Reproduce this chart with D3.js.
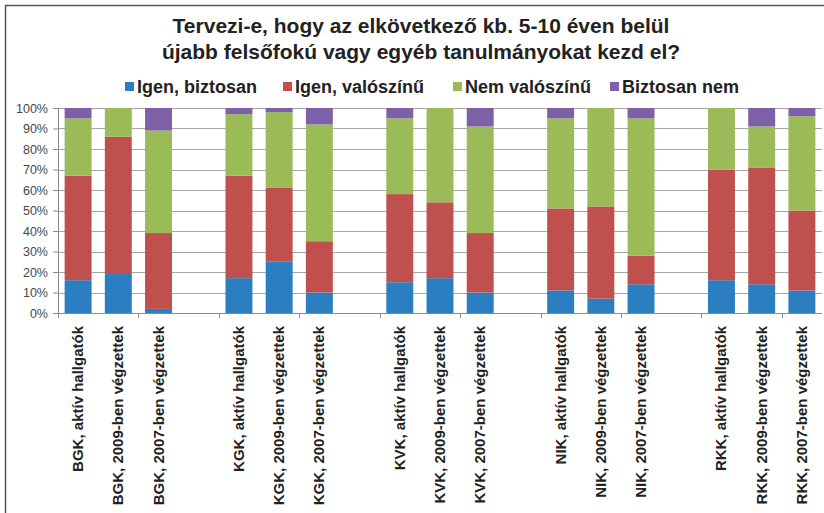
<!DOCTYPE html>
<html>
<head>
<meta charset="utf-8">
<script src="https://cdn.jsdelivr.net/npm/d3@7"></script>
<style>
  body { margin: 0; background: #fff; }
  svg { display: block; font-family: "Liberation Sans", Arial, sans-serif; }
</style>
</head>
<body>
<div id="chart"></div>
<script>
// categories, '' marks an empty slot between faculties
const categories = [
  'BGK, aktív hallgatók', 'BGK, 2009-ben végzettek', 'BGK, 2007-ben végzettek', '',
  'KGK, aktív hallgatók', 'KGK, 2009-ben végzettek', 'KGK, 2007-ben végzettek', '',
  'KVK, aktív hallgatók', 'KVK, 2009-ben végzettek', 'KVK, 2007-ben végzettek', '',
  'NIK, aktív hallgatók', 'NIK, 2009-ben végzettek', 'NIK, 2007-ben végzettek', '',
  'RKK, aktív hallgatók', 'RKK, 2009-ben végzettek', 'RKK, 2007-ben végzettek'
];
const seriesNames = ['Igen, biztosan', 'Igen, valószínű', 'Nem valószínű', 'Biztosan nem'];
const seriesColors = ['#2b7fc1', '#c0504d', '#9bbb59', '#7d60a8'];

// percentages per bar (empty slots are skipped)
const igenBiztosan  = [16, 19, 2,   17, 25, 10,  15, 17, 10,  11, 7, 14,   16, 14, 11];
const igenValoszinu = [51, 67, 37,  50, 36, 25,  43, 37, 29,  40, 45, 14,  54, 57, 39];
const nemValoszinu  = [28, 14, 50,  30, 37, 57,  37, 46, 52,  44, 48, 67,  30, 20, 46];
const biztosanNem   = [5, 0, 11,    3, 2, 8,     5, 0, 9,     5, 0, 5,     0, 9, 4];

const yTicks = [0, 10, 20, 30, 40, 50, 60, 70, 80, 90, 100];

const svgWidth = 824;
const svgHeight = 513;
const margin = { top: 108, right: 2, bottom: 200, left: 58 };
const width = svgWidth - margin.left - margin.right;
const height = svgHeight - margin.top - margin.bottom;

const svg = d3.select('#chart').append('svg')
  .attr('width', svgWidth)
  .attr('height', svgHeight);

// frame
svg.append('rect')
  .attr('x', 5.5).attr('y', 5.5)
  .attr('width', svgWidth + 10).attr('height', svgHeight + 10)
  .attr('fill', 'none')
  .attr('stroke', '#555')
  .attr('stroke-width', 1.5);

// title
const title = svg.append('text')
  .attr('text-anchor', 'middle')
  .attr('font-weight', 'bold')
  .attr('font-size', 21)
  .attr('fill', '#222');
title.append('tspan').attr('x', 421).attr('y', 33).text('Tervezi-e, hogy az elkövetkező kb. 5-10 éven belül');
title.append('tspan').attr('x', 421).attr('y', 59).text('újabb felsőfokú vagy egyéb tanulmányokat kezd el?');

// legend
const legendX = [125, 283, 453, 610];
const legend = svg.append('g').attr('font-weight', 'bold').attr('font-size', 18).attr('fill', '#222');
seriesNames.forEach((name, i) => {
  legend.append('rect')
    .attr('x', legendX[i]).attr('y', 82)
    .attr('width', 9).attr('height', 9)
    .attr('fill', seriesColors[i]);
  legend.append('text')
    .attr('x', legendX[i] + 12).attr('y', 93)
    .text(name);
});

const g = svg.append('g')
  .attr('transform', `translate(${margin.left},${margin.top})`);

const x = d3.scaleBand()
  .domain(d3.range(categories.length))
  .range([0, width])
  .paddingInner(0.33)
  .paddingOuter(0.165);

const y = d3.scaleLinear().domain([0, 100]).range([height, 0]);

// grid
g.append('g')
  .selectAll('line')
  .data(yTicks.slice(1))
  .join('line')
  .attr('x1', 0).attr('x2', width)
  .attr('y1', d => Math.round(y(d)) + 0.5)
  .attr('y2', d => Math.round(y(d)) + 0.5)
  .attr('stroke', '#a6a6a6');

// y axis
const yAxis = g.append('g')
  .call(d3.axisLeft(y).tickValues(yTicks).tickFormat(d => d + '%').tickSize(5).tickPadding(5));
yAxis.select('.domain').attr('stroke', '#8c8c8c');
yAxis.selectAll('.tick line').attr('stroke', '#8c8c8c');
yAxis.selectAll('text')
  .attr('font-size', 12.5)
  .attr('font-family', '"Liberation Sans", Arial, sans-serif')
  .attr('fill', '#484848');

// stacked bars
const barCats = categories.map((c, i) => ({ c, i })).filter(d => d.c !== '');
const rows = barCats.map((d, k) => ({
  idx: d.i,
  s0: igenBiztosan[k], s1: igenValoszinu[k], s2: nemValoszinu[k], s3: biztosanNem[k]
}));
const stack = d3.stack().keys(['s0', 's1', 's2', 's3']);
const layers = stack(rows);

g.append('g')
  .selectAll('g')
  .data(layers)
  .join('g')
  .attr('fill', (d, i) => seriesColors[i])
  .selectAll('rect')
  .data(d => d)
  .join('rect')
  .attr('x', d => x(d.data.idx))
  .attr('width', x.bandwidth())
  .attr('y', d => y(Math.min(d[1], 100)))
  .attr('height', d => y(d[0]) - y(Math.min(d[1], 100)));

// x axis
const step = x.step();
const xAxis = g.append('g').attr('transform', `translate(0,${height})`);
xAxis.append('line')
  .attr('x1', 0).attr('x2', width)
  .attr('y1', 0.5).attr('y2', 0.5)
  .attr('stroke', '#8c8c8c');
xAxis.selectAll('.xtick')
  .data(d3.range(0, categories.length, 2))
  .join('line')
  .attr('class', 'xtick')
  .attr('x1', d => Math.round(d * step) + 0.5)
  .attr('x2', d => Math.round(d * step) + 0.5)
  .attr('y1', 0).attr('y2', 5)
  .attr('stroke', '#8c8c8c');

xAxis.selectAll('.xlabel')
  .data(barCats)
  .join('text')
  .attr('class', 'xlabel')
  .attr('transform', d => `translate(${x(d.i) + x.bandwidth() / 2 + 5},13) rotate(-90)`)
  .attr('text-anchor', 'end')
  .attr('font-size', 15)
  .attr('font-weight', 'bold')
  .attr('fill', '#222')
  .text(d => d.c);
</script>
</body>
</html>
